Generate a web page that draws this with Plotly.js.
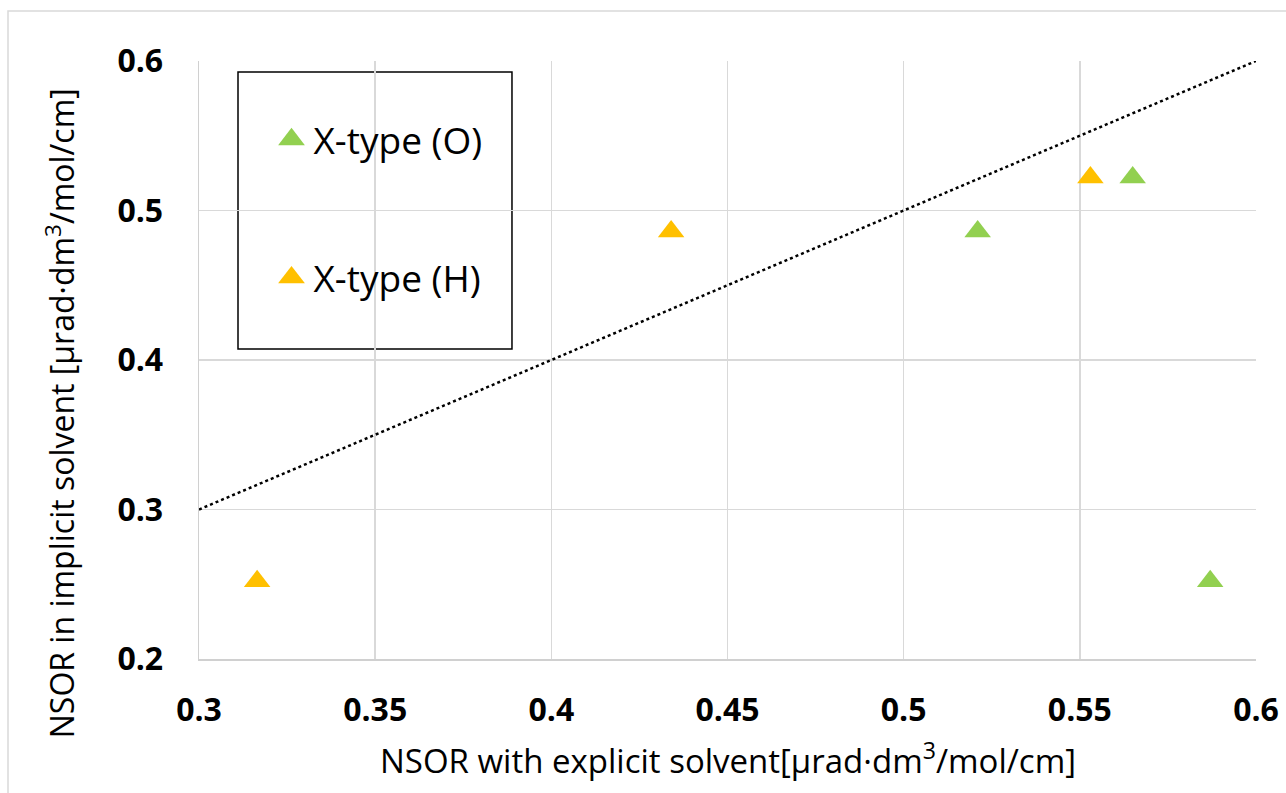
<!DOCTYPE html>
<html>
<head>
<meta charset="utf-8">
<script src="https://cdn.plot.ly/plotly-3.0.1.min.js"></script>
<style>html,body{margin:0;padding:0;background:#fff;}#chart{width:1286px;height:793px;}</style>
</head>
<body>
<div id="chart"></div>
<script>
// Data
const seriesNames = ["X-type (O)", "X-type (H)"];
const seriesColors = ["#92D050", "#FFC000"];
const xTypeO_x = [0.521, 0.565, 0.587];
const xTypeO_y = [0.486, 0.522, 0.252];
const xTypeH_x = [0.3165, 0.434, 0.553];
const xTypeH_y = [0.252, 0.486, 0.522];
const parityLine_x = [0.3, 0.6];
const parityLine_y = [0.3, 0.6];
const xTickVals = [0.3, 0.35, 0.4, 0.45, 0.5, 0.55, 0.6];
const xTickText = ["0.3", "0.35", "0.4", "0.45", "0.5", "0.55", "0.6"];
const yTickVals = [0.2, 0.3, 0.4, 0.5, 0.6];
const yTickText = ["0.2", "0.3", "0.4", "0.5", "0.6"];
const xTitle = "NSOR with explicit solvent[μrad·dm<sup>3</sup>/mol/cm]";
const yTitle = "NSOR in implicit solvent [μrad·dm<sup>3</sup>/mol/cm]";

const FONT = "Open Sans, Noto Sans, sans-serif";

const traces = [
  {
    x: parityLine_x, y: parityLine_y, mode: "lines", type: "scatter",
    line: {color: "#000000", width: 2.5, dash: "dot"},
    showlegend: false, hoverinfo: "skip"
  },
  {
    x: xTypeO_x, y: xTypeO_y, mode: "markers", type: "scatter", name: seriesNames[0],
    legendgroup: "o",
    marker: {symbol: "triangle-up", size: 23, color: seriesColors[0]}
  },
  {
    x: xTypeH_x, y: xTypeH_y, mode: "markers", type: "scatter", name: seriesNames[1],
    legendgroup: "h",
    marker: {symbol: "triangle-up", size: 23, color: seriesColors[1]}
  }
];

const layout = {
  width: 1286, height: 793,
  margin: {l: 199, r: 30, t: 61, b: 134, pad: 0},
  paper_bgcolor: "#ffffff", plot_bgcolor: "#ffffff",
  font: {family: FONT, color: "#000000"},
  showlegend: true,
  legend: {
    x: 0.0667, y: 0.920, xanchor: "left", yanchor: "top",
    bgcolor: "rgba(0,0,0,0)", borderwidth: 0,
    font: {family: FONT, size: 37, color: "#000000"},
    traceorder: "grouped", tracegroupgap: 87, itemwidth: 34
  },
  xaxis: {
    range: [0.3, 0.6], tickvals: xTickVals, ticktext: xTickText,
    showgrid: true, gridcolor: "#d9d9d9", gridwidth: 1.5,
    showline: true, linecolor: "#d0d0d0", linewidth: 1.5,
    zeroline: false, ticks: "", ticklabelstandoff: 22,
    tickfont: {family: FONT, size: 32, weight: 700, color: "#000000"},
    fixedrange: true
  },
  yaxis: {
    range: [0.2, 0.6], tickvals: yTickVals, ticktext: yTickText,
    showgrid: true, gridcolor: "#d9d9d9", gridwidth: 1.5,
    showline: true, linecolor: "#d0d0d0", linewidth: 1.5,
    zeroline: false, ticks: "", ticklabelstandoff: 28,
    tickfont: {family: FONT, size: 32, weight: 700, color: "#000000"},
    fixedrange: true
  },
  annotations: [
    {text: xTitle, xref: "paper", yref: "paper", x: 0.5, y: -0.166,
     xanchor: "center", yanchor: "middle", showarrow: false,
     font: {family: FONT, size: 33, color: "#000000"}},
    {text: yTitle, xref: "paper", yref: "paper", x: -0.1315, y: 0.411,
     xanchor: "center", yanchor: "middle", showarrow: false, textangle: -90,
     font: {family: FONT, size: 32, color: "#000000"}}
  ],
  shapes: [
    // legend frame
    {type: "rect", xref: "paper", yref: "paper", x0: 0.0369, x1: 0.2961, y0: 0.5184, y1: 0.9816,
     line: {color: "#000000", width: 1.5}, fillcolor: "#ffffff", layer: "below"},
    // outer chart frame (cropped at right/bottom)
    {type: "rect", xref: "paper", yref: "paper", x0: -0.1807, x1: 1.2, y0: -0.4, y1: 1.0836,
     line: {color: "#d9d9d9", width: 1.5}, fillcolor: "rgba(0,0,0,0)", layer: "above"}
  ]
};

function enlargeLegendSymbols() {
  document.querySelectorAll("#chart .legend .legendpoints path.scatterpts, #chart .legend .legendpoints path.point").forEach(function (p) {
    const t = p.getAttribute("transform") || "";
    if (t.indexOf("scale") < 0) p.setAttribute("transform", t + " scale(1.45)");
  });
}

Plotly.newPlot("chart", traces, layout, {displayModeBar: false, staticPlot: true}).then(enlargeLegendSymbols);
</script>
</body>
</html>
